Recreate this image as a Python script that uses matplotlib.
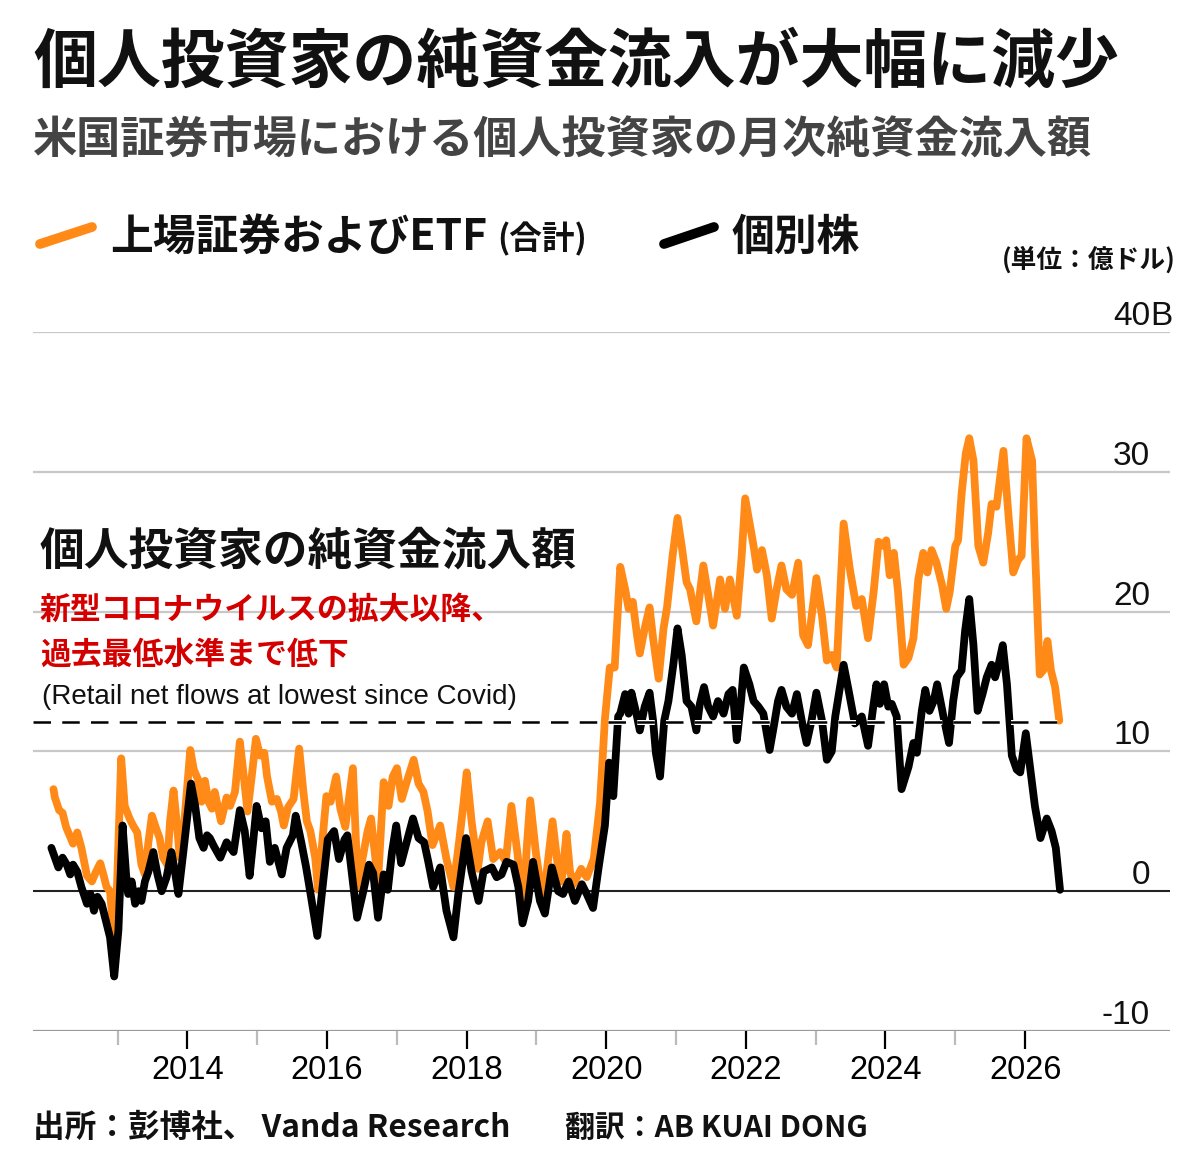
import matplotlib
matplotlib.use("Agg")
import matplotlib.pyplot as plt
from matplotlib.lines import Line2D
import matplotlib.patheffects as pe
import matplotlib.transforms as mtransforms

# ---------------- data ----------------
etf_years = [2012.08, 2012.10, 2012.16, 2012.21, 2012.26, 2012.31, 2012.36, 2012.42, 2012.48, 2012.56,
             2012.63, 2012.69, 2012.75, 2012.80, 2012.84, 2012.89, 2012.96, 2013.05, 2013.10, 2013.17,
             2013.22, 2013.28, 2013.34, 2013.39, 2013.44, 2013.49, 2013.55, 2013.60, 2013.65, 2013.71,
             2013.75, 2013.80, 2013.85, 2013.89, 2013.95, 2014.04, 2014.09, 2014.15, 2014.20, 2014.25,
             2014.30, 2014.35, 2014.39, 2014.48, 2014.56, 2014.61, 2014.68, 2014.75, 2014.80, 2014.86,
             2014.92, 2014.98, 2015.04, 2015.10, 2015.14, 2015.21, 2015.28, 2015.34, 2015.38, 2015.44,
             2015.52, 2015.60, 2015.66, 2015.71, 2015.76, 2015.83, 2015.87, 2015.99, 2016.05, 2016.13,
             2016.19, 2016.26, 2016.37, 2016.44, 2016.51, 2016.58, 2016.63, 2016.67, 2016.73, 2016.81,
             2016.88, 2016.94, 2017.00, 2017.07, 2017.14, 2017.24, 2017.31, 2017.38, 2017.44, 2017.51,
             2017.62, 2017.71, 2017.81, 2017.89, 2017.95, 2018.00, 2018.07, 2018.16, 2018.21, 2018.30,
             2018.38, 2018.48, 2018.56, 2018.64, 2018.73, 2018.81, 2018.86, 2018.91, 2018.99, 2019.05,
             2019.11, 2019.23, 2019.31, 2019.36, 2019.43, 2019.48, 2019.53, 2019.64, 2019.72, 2019.82,
             2019.91, 2019.98, 2020.05, 2020.12, 2020.20, 2020.27, 2020.32, 2020.38, 2020.44, 2020.48,
             2020.55, 2020.62, 2020.67, 2020.75, 2020.82, 2020.87, 2020.95, 2021.02, 2021.08, 2021.15,
             2021.20, 2021.29, 2021.39, 2021.46, 2021.53, 2021.63, 2021.70, 2021.77, 2021.87, 2021.94,
             2021.99, 2022.06, 2022.11, 2022.16, 2022.23, 2022.30, 2022.37, 2022.44, 2022.51, 2022.58,
             2022.66, 2022.75, 2022.82, 2022.89, 2023.01, 2023.09, 2023.16, 2023.23, 2023.30, 2023.40,
             2023.49, 2023.58, 2023.66, 2023.75, 2023.83, 2023.90, 2023.97, 2024.01, 2024.06, 2024.12,
             2024.18, 2024.26, 2024.33, 2024.40, 2024.47, 2024.54, 2024.60, 2024.66, 2024.73, 2024.81,
             2024.87, 2024.92, 2025.00, 2025.04, 2025.09, 2025.15, 2025.20, 2025.26, 2025.33, 2025.40,
             2025.47, 2025.52, 2025.59, 2025.69, 2025.76, 2025.83, 2025.90, 2025.95, 2026.02, 2026.10,
             2026.14, 2026.21, 2026.26, 2026.32, 2026.37, 2026.43, 2026.49]
etf_values = [7.3, 6.7, 5.8, 5.6, 4.6, 4.0, 3.4, 4.2, 3.1, 1.1,
              0.7, 1.4, 2.0, 1.1, 0.3, 0.0, -4.2, 9.5, 6.1, 5.2,
              4.7, 4.2, 1.9, 1.2, 3.5, 5.4, 4.5, 3.8, 2.4, 1.9,
              5.0, 7.2, 4.7, 2.4, 4.7, 10.1, 8.7, 8.0, 6.4, 7.9,
              6.4, 5.9, 7.1, 5.0, 6.7, 6.1, 7.1, 10.7, 8.5, 5.7,
              8.2, 10.9, 9.7, 9.9, 8.2, 6.4, 6.6, 5.7, 4.7, 6.0,
              6.6, 10.2, 7.1, 5.0, 4.3, 2.4, 0.1, 6.8, 6.4, 8.2,
              5.9, 4.6, 8.8, 0.3, 2.4, 4.3, 5.2, 3.3, 0.7, 7.8,
              6.1, 8.2, 8.8, 6.6, 7.8, 9.4, 7.7, 7.1, 5.7, 3.3,
              4.7, 2.3, 0.3, 3.5, 6.1, 8.5, 5.0, 1.6, 3.5, 5.0,
              2.3, 2.8, 2.1, 6.1, 2.6, -1.4, 3.1, 6.5, 2.8, 0.7,
              -0.2, 5.0, 1.6, 0.7, 4.1, 1.4, 0.5, 1.6, 1.0, 2.3,
              6.3, 12.3, 16.0, 16.0, 23.2, 21.6, 20.2, 20.7, 18.3, 17.0,
              18.8, 20.3, 18.1, 15.2, 18.8, 20.3, 24.0, 26.7, 24.7, 22.1,
              21.6, 19.3, 23.3, 21.2, 19.0, 22.3, 20.2, 22.3, 19.7, 24.0,
              28.1, 26.1, 24.7, 23.0, 24.4, 22.6, 19.5, 21.6, 23.3, 21.6,
              21.2, 23.5, 18.3, 17.6, 22.4, 19.7, 16.5, 16.9, 16.0, 26.3,
              23.0, 20.4, 20.9, 18.1, 21.4, 25.0, 24.7, 25.1, 22.6, 24.2,
              21.4, 16.2, 16.7, 18.1, 22.3, 24.2, 22.8, 24.4, 23.5, 21.9,
              20.2, 21.4, 24.7, 25.1, 28.4, 31.3, 32.4, 30.8, 24.7, 23.5,
              25.6, 27.7, 27.5, 31.5, 27.0, 22.8, 23.7, 24.0, 32.4, 30.8,
              24.7, 15.5, 15.8, 17.9, 15.8, 14.6, 12.2]

stock_years = [2012.05, 2012.10, 2012.15, 2012.21, 2012.27, 2012.32, 2012.36, 2012.42, 2012.48, 2012.56,
               2012.61, 2012.66, 2012.71, 2012.77, 2012.82, 2012.89, 2012.95, 2013.01, 2013.07, 2013.12,
               2013.15, 2013.20, 2013.25, 2013.30, 2013.34, 2013.39, 2013.44, 2013.51, 2013.57, 2013.63,
               2013.70, 2013.77, 2013.82, 2013.87, 2013.94, 2014.05, 2014.11, 2014.17, 2014.23, 2014.28,
               2014.32, 2014.38, 2014.47, 2014.56, 2014.66, 2014.75, 2014.82, 2014.89, 2014.94, 2014.99,
               2015.06, 2015.12, 2015.18, 2015.25, 2015.35, 2015.42, 2015.51, 2015.55, 2015.63, 2015.70,
               2015.77, 2015.86, 2015.92, 2016.01, 2016.10, 2016.17, 2016.25, 2016.29, 2016.43, 2016.51,
               2016.60, 2016.66, 2016.73, 2016.81, 2016.87, 2016.93, 2016.99, 2017.06, 2017.14, 2017.23,
               2017.31, 2017.39, 2017.45, 2017.52, 2017.62, 2017.71, 2017.81, 2017.88, 2017.99, 2018.07,
               2018.17, 2018.24, 2018.36, 2018.43, 2018.50, 2018.57, 2018.67, 2018.74, 2018.80, 2018.88,
               2018.95, 2019.05, 2019.12, 2019.22, 2019.31, 2019.38, 2019.46, 2019.55, 2019.65, 2019.72,
               2019.81, 2019.89, 2019.98, 2020.04, 2020.10, 2020.17, 2020.20, 2020.27, 2020.32, 2020.36,
               2020.44, 2020.48, 2020.55, 2020.62, 2020.67, 2020.71, 2020.77, 2020.83, 2020.89, 2020.96,
               2021.02, 2021.08, 2021.15, 2021.22, 2021.29, 2021.34, 2021.40, 2021.46, 2021.53, 2021.60,
               2021.68, 2021.75, 2021.81, 2021.87, 2021.93, 2021.97, 2022.05, 2022.11, 2022.18, 2022.25,
               2022.34, 2022.40, 2022.46, 2022.51, 2022.58, 2022.66, 2022.73, 2022.80, 2022.87, 2022.94,
               2023.01, 2023.09, 2023.16, 2023.23, 2023.28, 2023.40, 2023.47, 2023.56, 2023.66, 2023.75,
               2023.83, 2023.87, 2023.92, 2023.98, 2024.04, 2024.09, 2024.16, 2024.23, 2024.33, 2024.40,
               2024.45, 2024.52, 2024.57, 2024.63, 2024.69, 2024.74, 2024.83, 2024.91, 2024.97, 2025.02,
               2025.09, 2025.14, 2025.20, 2025.26, 2025.32, 2025.39, 2025.45, 2025.52, 2025.57, 2025.62,
               2025.68, 2025.74, 2025.81, 2025.88, 2025.93, 2026.01, 2026.07, 2026.14, 2026.22, 2026.31,
               2026.38, 2026.44, 2026.50]
stock_values = [3.1, 2.4, 1.7, 2.4, 1.9, 1.2, 1.9, 1.4, 0.3, -0.9,
                -0.2, -1.4, -0.4, -0.9, -1.9, -3.3, -6.1, -2.8, 4.7, 1.2,
                -0.2, 0.7, -0.9, 0.0, -0.7, 0.7, 1.4, 2.8, 1.2, 0.0,
                1.0, 2.8, 1.4, -0.2, 2.8, 7.7, 6.1, 3.8, 3.1, 4.0,
                3.8, 3.2, 2.4, 3.5, 2.8, 5.8, 4.3, 1.1, 3.5, 6.1,
                4.5, 5.0, 2.1, 3.1, 1.2, 3.1, 4.0, 5.4, 3.5, 1.7,
                -0.4, -3.2, -0.4, 3.7, 4.3, 2.3, 3.7, 4.0, -1.9, -0.2,
                1.9, 1.3, -1.9, 1.2, 0.1, 2.8, 4.7, 2.0, 3.5, 5.2,
                3.8, 3.5, 2.1, 0.3, 1.7, -1.4, -3.3, -0.2, 3.8, 1.4,
                -0.7, 1.4, 1.7, 1.0, 1.2, 2.1, 1.9, 0.3, -2.3, -0.7,
                2.1, -0.7, -1.6, 1.7, 0.0, -0.2, 0.7, -0.7, 0.5, -0.2,
                -1.2, 1.7, 4.7, 9.2, 6.8, 12.5, 12.7, 14.1, 12.7, 14.2,
                12.5, 11.5, 13.2, 14.2, 12.2, 9.9, 8.2, 12.2, 13.6, 16.2,
                18.8, 16.9, 13.6, 13.2, 11.5, 13.4, 14.6, 13.2, 12.5, 13.6,
                12.7, 14.1, 14.4, 10.8, 13.6, 16.0, 14.8, 13.6, 13.2, 12.7,
                10.1, 11.8, 13.6, 14.4, 13.2, 12.7, 14.1, 12.2, 10.6, 12.2,
                14.2, 12.2, 9.4, 10.0, 12.5, 16.2, 14.4, 12.0, 12.5, 10.4,
                13.4, 14.8, 13.4, 14.8, 13.2, 13.4, 12.5, 7.3, 8.9, 10.6,
                9.9, 12.9, 14.4, 12.9, 13.6, 14.8, 12.5, 10.6, 13.6, 15.3,
                15.8, 18.6, 20.9, 17.6, 12.9, 14.1, 15.3, 16.2, 15.3, 16.2,
                17.6, 14.8, 9.7, 8.7, 8.5, 11.3, 8.9, 6.1, 3.8, 5.2,
                4.3, 3.1, 0.1]

reference_level = 12.1           # latest level, dashed line
y_ticks = [-10, 0, 10, 20, 30, 40]
y_tick_labels = ["-10", "0", "10", "20", "30", "40B"]
x_major = [2014, 2016, 2018, 2020, 2022, 2024, 2026]
x_minor = [2013, 2015, 2017, 2019, 2021, 2023, 2025]

title = "個人投資家の純資金流入が大幅に減少"
subtitle = "米国証券市場における個人投資家の月次純資金流入額"
legend_etf = "上場証券およびETF"
legend_etf_note = "(合計)"
legend_stock = "個別株"
unit_label = "(単位：億ドル)"
note_title = "個人投資家の純資金流入額"
note_red = ["新型コロナウイルスの拡大以降、", "過去最低水準まで低下"]
note_en = "(Retail net flows at lowest since Covid)"
source_text = "出所：彭博社、 Vanda Research"
translator_text = "翻訳：AB KUAI DONG"

# ---------------- style ----------------
ORANGE = "#FF8A17"
BLACK = "#000000"
RED = "#D40000"
GRID = "#C8C8C8"
JP = ["Noto Sans CJK JP", "DejaVu Sans"]
NUM = "Liberation Sans"

W, H = 1200, 1158
fig = plt.figure(figsize=(W / 100, H / 100), dpi=100)
fig.patch.set_facecolor("white")

def fx(x):
    return x / W

def fy(y):
    return 1 - y / H

ax_left, ax_right, ax_top, ax_bottom = 33, 1170, 332, 1031
ax = fig.add_axes([fx(ax_left), fy(ax_bottom), (ax_right - ax_left) / W, (ax_bottom - ax_top) / H])
ax.set_facecolor("white")

x0 = 2014 + (ax_left - 187.5) / 69.8
x1 = 2014 + (ax_right - 187.5) / 69.8
ax.set_xlim(x0, x1)
ax.set_ylim(-10, 40)

for s in ax.spines.values():
    s.set_visible(False)

# grid lines
for v in y_ticks:
    if v == 0:
        ax.axhline(v, color="#222222", lw=1.5, zorder=1)
    else:
        ax.axhline(v, color=GRID if v != -10 else "#9A9A9A", lw=1.6, zorder=1)

# series
ax.plot(etf_years, etf_values, color=ORANGE, lw=5.6, solid_joinstyle="round",
        solid_capstyle="round", zorder=3)
ax.plot(stock_years, stock_values, color=BLACK, lw=5.6, solid_joinstyle="round",
        solid_capstyle="round", zorder=4)

# dashed reference line
ax.plot([x0, etf_years[-1]], [reference_level, reference_level], color="black", lw=1.8,
        dashes=(7, 4.5), zorder=5,
        path_effects=[pe.Stroke(linewidth=3.6, foreground="white"), pe.Normal()])

# x ticks
ax.set_yticks([])
ax.set_xticks(x_major)
ax.set_xticklabels([str(v) for v in x_major], fontsize=23.5, family=NUM)
ax.set_xticks(x_minor, minor=True)
ax.tick_params(axis="x", which="major", length=13, width=1.6, color="black", pad=4)
ax.tick_params(axis="x", which="minor", length=10, width=1.6, color="#BBBBBB")

# y labels above gridlines at right
trans = mtransforms.blended_transform_factory(fig.transFigure, ax.transData)
for v, lab in zip(y_ticks, y_tick_labels):
    t = mtransforms.offset_copy(trans, fig=fig, x=0, y=7, units="dots")
    if lab.endswith("B"):
        ax.text(fx(1150), v, lab[:-1], transform=t, ha="right", va="baseline",
                fontsize=24, family=NUM, color="#111111")
        ax.text(fx(1150), v, "B", transform=t, ha="left", va="baseline",
                fontsize=24, family=NUM, color="#111111")
    else:
        ax.text(fx(1150), v, lab, transform=t, ha="right", va="baseline",
                fontsize=24, family=NUM, color="#111111")

# ---------------- texts ----------------
fig.text(fx(33), fy(63), title, fontsize=46, fontweight="bold", family=JP,
         color="#111111", ha="left", va="center")
fig.text(fx(33), fy(141), subtitle, fontsize=31.8, fontweight="bold", family=JP,
         color="#444444", ha="left", va="center")

# legend
fig.add_artist(Line2D([fx(40), fx(92)], [fy(244), fy(227)], color=ORANGE, lw=7,
                      solid_capstyle="round", transform=fig.transFigure))
fig.text(fx(110), fy(237), legend_etf, fontsize=30.8, fontweight="bold", family=JP,
         color="#111111", ha="left", va="center")
fig.text(fx(497), fy(239), legend_etf_note, fontsize=23.5, fontweight="bold", family=JP,
         color="#111111", ha="left", va="center")
fig.add_artist(Line2D([fx(664), fx(714)], [fy(244), fy(227)], color=BLACK, lw=7,
                      solid_capstyle="round", transform=fig.transFigure))
fig.text(fx(732), fy(237), legend_stock, fontsize=30.8, fontweight="bold", family=JP,
         color="#111111", ha="left", va="center")
fig.text(fx(1176), fy(260), unit_label, fontsize=18.5, fontweight="bold", family=JP,
         color="#111111", ha="right", va="center")

# in-chart annotation
fig.text(fx(40), fy(552), note_title, fontsize=32.2, fontweight="bold", family=JP,
         color="#111111", ha="left", va="center")
fig.text(fx(40), fy(610), note_red[0], fontsize=22.2, fontweight="bold", family=JP,
         color=RED, ha="left", va="center")
fig.text(fx(40), fy(655), note_red[1], fontsize=22.2, fontweight="bold", family=JP,
         color=RED, ha="left", va="center")
fig.text(fx(42), fy(697), note_en, fontsize=20, family="Liberation Sans",
         color="#111111", ha="left", va="center")

# footer
fig.text(fx(33), fy(1128), source_text, fontsize=22.8, fontweight="bold", family=JP,
         color="#111111", ha="left", va="center")
fig.text(fx(565), fy(1128), translator_text, fontsize=21.5, fontweight="bold", family=JP,
         color="#111111", ha="left", va="center")

fig.savefig("out.png", dpi=100, facecolor="white")
